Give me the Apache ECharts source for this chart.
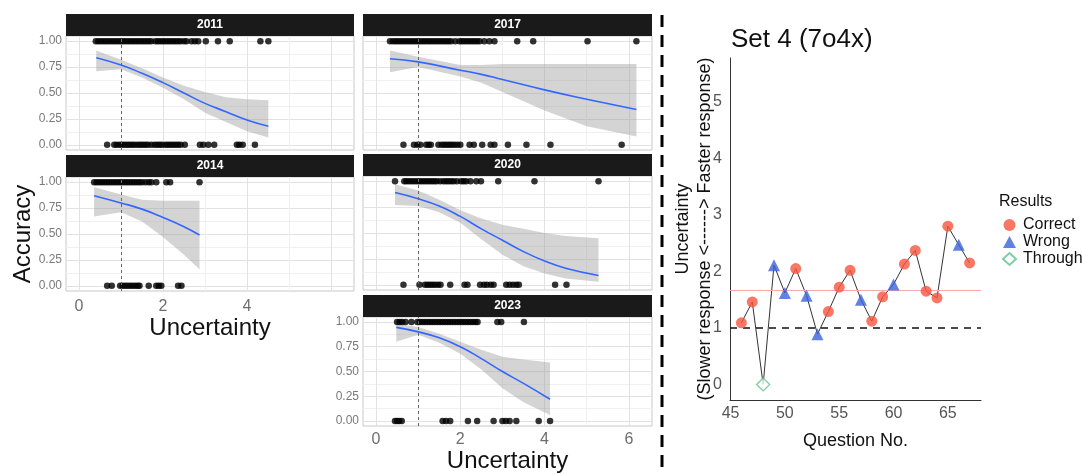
<!DOCTYPE html>
<html>
<head>
<meta charset="utf-8">
<script src="https://cdn.jsdelivr.net/npm/echarts@6/dist/echarts.min.js"></script>
<style>
  html, body { margin: 0; padding: 0; background: #fff; }
  #chart { width: 1082px; height: 474px; }
</style>
</head>
<body>
<div id="chart"></div>
<script>
// ---- facet panels: accuracy vs uncertainty, by year ----
const years = ['2011', '2017', '2014', '2020', '2023']

// uncertainty of answers with accuracy = 1
const hit2011 = [0.40, 0.46, 0.52, 0.58, 0.64, 0.70, 0.76, 0.82, 0.88, 0.94, 1.00, 1.06, 1.12, 1.18, 1.24, 1.30, 1.36, 1.42, 1.48, 1.54, 1.60, 1.66, 1.72, 1.82, 1.88, 1.94, 2.00, 2.06, 2.12, 2.18, 2.24, 2.30, 2.36, 2.42, 2.50, 2.56, 2.68, 2.76, 2.84, 3.02, 3.31, 3.59, 4.32, 4.51]
const hit2017 = [0.33, 0.40, 0.46, 0.52, 0.58, 0.64, 0.70, 0.76, 0.82, 0.88, 0.94, 1.00, 1.06, 1.12, 1.18, 1.24, 1.30, 1.36, 1.42, 1.48, 1.54, 1.60, 1.66, 1.72, 1.78, 1.88, 1.98, 2.04, 2.10, 2.16, 2.22, 2.28, 2.34, 2.40, 2.46, 2.57, 2.69, 2.81, 3.35, 3.73, 5.02, 6.18]
const hit2014 = [0.36, 0.42, 0.48, 0.54, 0.60, 0.66, 0.72, 0.78, 0.84, 0.90, 0.96, 1.02, 1.08, 1.14, 1.20, 1.26, 1.32, 1.38, 1.44, 1.50, 1.58, 1.66, 1.72, 1.84, 2.08, 2.17, 2.87]
const hit2020 = [0.45, 0.67, 0.72, 0.78, 0.84, 0.90, 0.96, 1.02, 1.08, 1.14, 1.20, 1.26, 1.32, 1.38, 1.44, 1.52, 1.60, 1.66, 1.72, 1.78, 1.84, 1.92, 2.02, 2.08, 2.14, 2.24, 2.38, 2.49, 2.90, 3.76, 5.28]
const hit2023 = [0.50, 0.56, 0.62, 0.70, 0.84, 0.98, 1.04, 1.10, 1.16, 1.22, 1.28, 1.34, 1.40, 1.46, 1.52, 1.58, 1.64, 1.70, 1.76, 1.82, 1.88, 1.94, 2.00, 2.06, 2.12, 2.18, 2.24, 2.30, 2.36, 2.41, 2.88, 2.97, 3.51]

// uncertainty of answers with accuracy = 0
const miss2011 = [0.67, 0.84, 0.90, 0.97, 1.03, 1.09, 1.15, 1.21, 1.27, 1.33, 1.40, 1.46, 1.52, 1.58, 1.64, 1.72, 1.80, 1.86, 1.92, 1.98, 2.06, 2.12, 2.18, 2.24, 2.30, 2.36, 2.42, 2.52, 2.88, 2.96, 3.08, 3.22, 3.76, 3.82, 3.90, 4.19]
const miss2017 = [0.65, 0.90, 0.98, 1.05, 1.19, 1.25, 1.30, 1.48, 1.56, 1.62, 1.68, 1.74, 1.80, 1.86, 1.93, 2.00, 2.22, 2.32, 2.52, 2.72, 2.81, 3.13, 3.57, 4.14, 5.83]
const miss2014 = [0.67, 0.78, 0.98, 1.04, 1.10, 1.16, 1.22, 1.28, 1.34, 1.40, 1.44, 1.66, 1.84, 1.90, 1.96, 2.36, 2.44]
const miss2020 = [0.65, 1.03, 1.16, 1.22, 1.28, 1.34, 1.40, 1.47, 1.53, 1.76, 2.10, 2.17, 2.47, 2.56, 2.63, 2.72, 2.79, 3.09, 3.17, 3.25, 3.33, 3.39, 4.25, 4.52]
const miss2023 = [0.45, 0.50, 0.55, 0.61, 1.58, 1.66, 1.76, 2.18, 2.40, 2.79, 3.00, 3.08, 3.17, 3.33, 3.86, 4.13]

// logistic fit (line) with confidence band
const fitX2011 = [0.41, 1.0, 1.5, 2.0, 2.5, 3.0, 3.5, 4.0, 4.51]
const fitY2011 = [0.84, 0.77, 0.69, 0.60, 0.50, 0.40, 0.32, 0.24, 0.18]
const fitLo2011 = [0.71, 0.73, 0.65, 0.55, 0.44, 0.31, 0.22, 0.13, 0.07]
const fitHi2011 = [0.91, 0.82, 0.74, 0.65, 0.57, 0.51, 0.46, 0.44, 0.43]

const fitX2017 = [0.33, 1.0, 2.0, 2.5, 3.0, 4.0, 5.0, 6.18]
const fitY2017 = [0.83, 0.80, 0.72, 0.68, 0.63, 0.53, 0.44, 0.34]
const fitLo2017 = [0.70, 0.75, 0.66, 0.60, 0.51, 0.33, 0.18, 0.08]
const fitHi2017 = [0.91, 0.85, 0.77, 0.77, 0.78, 0.78, 0.78, 0.78]

const fitX2014 = [0.36, 1.0, 1.5, 2.0, 2.5, 2.87]
const fitY2014 = [0.87, 0.80, 0.74, 0.66, 0.57, 0.49]
const fitLo2014 = [0.67, 0.71, 0.62, 0.47, 0.30, 0.16]
const fitHi2014 = [0.95, 0.88, 0.83, 0.82, 0.82, 0.82]

const fitX2020 = [0.45, 1.0, 1.5, 2.0, 2.5, 3.0, 3.5, 4.0, 4.5, 5.28]
const fitY2020 = [0.89, 0.83, 0.76, 0.66, 0.54, 0.43, 0.32, 0.23, 0.16, 0.09]
const fitLo2020 = [0.77, 0.76, 0.70, 0.60, 0.44, 0.29, 0.18, 0.11, 0.06, 0.03]
const fitHi2020 = [0.97, 0.91, 0.82, 0.72, 0.64, 0.58, 0.54, 0.50, 0.47, 0.45]

const fitX2023 = [0.48, 1.0, 1.5, 2.0, 2.5, 3.0, 3.5, 4.13]
const fitY2023 = [0.945, 0.90, 0.84, 0.75, 0.63, 0.50, 0.38, 0.22]
const fitLo2023 = [0.80, 0.87, 0.79, 0.68, 0.52, 0.33, 0.19, 0.06]
const fitHi2023 = [0.98, 0.95, 0.88, 0.80, 0.72, 0.65, 0.62, 0.59]

const xGridValues = [0, 1, 2, 3, 4, 5, 6]
const yGridValues = [0, 0.125, 0.25, 0.375, 0.5, 0.625, 0.75, 0.875, 1]
const yTickLabels = [0, 0.25, 0.5, 0.75, 1]
const uncertaintyRef = 1

// ---- right panel: Set 4 (7o4x) ----
const questionNo = [46, 47, 48, 49, 50, 51, 52, 53, 54, 55, 56, 57, 58, 59, 60, 61, 62, 63, 64, 65, 66, 67]
const uncertainty = [1.09, 1.46, 0.00, 2.11, 1.62, 2.05, 1.57, 0.89, 1.29, 1.72, 2.02, 1.50, 1.12, 1.55, 1.77, 2.13, 2.37, 1.65, 1.53, 2.80, 2.47, 2.15]
const results = ['Correct', 'Correct', 'Through', 'Wrong', 'Wrong', 'Correct', 'Wrong', 'Wrong', 'Correct', 'Correct', 'Correct', 'Wrong', 'Correct', 'Correct', 'Wrong', 'Correct', 'Correct', 'Correct', 'Correct', 'Correct', 'Wrong', 'Correct']
const questionTicks = [45, 50, 55, 60, 65]
const uncertaintyTicks = [0, 1, 2, 3, 4, 5]
const meanUncertainty = 1.67

const FONT = '"Liberation Sans", Arial, sans-serif'

const facets = {
  '2011': { hit: hit2011, miss: miss2011, fx: fitX2011, fy: fitY2011, lo: fitLo2011, hi: fitHi2011 },
  '2017': { hit: hit2017, miss: miss2017, fx: fitX2017, fy: fitY2017, lo: fitLo2017, hi: fitHi2017 },
  '2014': { hit: hit2014, miss: miss2014, fx: fitX2014, fy: fitY2014, lo: fitLo2014, hi: fitHi2014 },
  '2020': { hit: hit2020, miss: miss2020, fx: fitX2020, fy: fitY2020, lo: fitLo2020, hi: fitHi2020 },
  '2023': { hit: hit2023, miss: miss2023, fx: fitX2023, fy: fitY2023, lo: fitLo2023, hi: fitHi2023 }
}

// panel layout
const panels = [
  { left: 66, top: 36, width: 288, height: 114, yLab: true, xLab: null },
  { left: 363, top: 36, width: 289, height: 114, yLab: false, xLab: null },
  { left: 66, top: 177, width: 288, height: 114, yLab: true, xLab: [0, 2, 4], acc: true },
  { left: 363, top: 176, width: 289, height: 114, yLab: false, xLab: null },
  { left: 363, top: 317, width: 289, height: 113, yLab: true, xLab: [0, 2, 4, 6] }
]

const grid = []
const xAxis = []
const yAxis = []
const series = []
const graphic = []

years.forEach((year, i) => {
  const p = panels[i]
  const f = facets[year]
  grid.push({
    left: p.left, top: p.top, width: p.width, height: p.height,
    show: true, backgroundColor: '#fff', borderColor: '#c8c8c8', borderWidth: 1
  })
  xAxis.push({
    type: 'value', gridIndex: i, min: -0.31, max: 6.55,
    axisLine: { show: false },
    axisTick: { show: false, customValues: xGridValues },
    axisLabel: {
      show: !!p.xLab, customValues: p.xLab || [], fontFamily: FONT,
      fontSize: 16, color: '#6e6e6e', margin: i === 4 ? 6 : 8
    },
    splitLine: { show: true, lineStyle: { color: ['#e2e2e2', '#f0f0f0'], width: 1 } },
    name: p.xLab ? 'Uncertainty' : '',
    nameLocation: 'middle', nameGap: i === 4 ? 23 : 25,
    nameTextStyle: { fontFamily: FONT, fontSize: 24, color: '#111' }
  })
  yAxis.push({
    type: 'value', gridIndex: i, min: -0.05, max: 1.05,
    axisLine: { show: false },
    axisTick: { show: false, customValues: yGridValues },
    axisLabel: {
      show: p.yLab, customValues: yTickLabels, formatter: v => v.toFixed(2),
      fontFamily: FONT, fontSize: 12, color: '#7a7a7a', margin: 4
    },
    splitLine: { show: true, lineStyle: { color: ['#e2e2e2', '#f0f0f0'], width: 1 } },
    name: p.acc ? 'Accuracy' : '',
    nameLocation: 'middle', nameGap: 31, nameRotate: 90, nameMoveOverlap: false,
    nameTextStyle: { fontFamily: FONT, fontSize: 24, color: '#111' }
  })

  const band = f.fx.map((x, k) => [x, f.lo[k], f.hi[k]])
  series.push({
    type: 'custom', xAxisIndex: i, yAxisIndex: i, silent: true,
    data: band,
    renderItem: (params, api) => {
      if (params.dataIndex !== 0) return null
      const upper = band.map(r => api.coord([r[0], r[2]]))
      const lower = band.slice().reverse().map(r => api.coord([r[0], r[1]]))
      return {
        type: 'polygon',
        shape: { points: upper.concat(lower) },
        style: { fill: 'rgba(153,153,153,0.42)' }
      }
    },
    z: 1
  })
  series.push({
    type: 'line', xAxisIndex: i, yAxisIndex: i, silent: true,
    data: f.fx.map((x, k) => [x, f.fy[k]]),
    smooth: true, showSymbol: false,
    lineStyle: { color: '#3366ff', width: 1.6 },
    z: 3
  })
  series.push({
    type: 'scatter', xAxisIndex: i, yAxisIndex: i, silent: true,
    data: f.hit.map(x => [x, 1]), symbolSize: 6.5,
    itemStyle: { color: '#000' }, z: 4,
    markLine: {
      silent: true, symbol: 'none', label: { show: false },
      lineStyle: { color: '#666', type: [3, 3], width: 1 },
      data: [{ xAxis: uncertaintyRef }]
    }
  })
  series.push({
    type: 'scatter', xAxisIndex: i, yAxisIndex: i, silent: true,
    data: f.miss.map(x => [x, 0]), symbolSize: 6.5,
    itemStyle: { color: '#000' }, z: 4
  })

  // facet strip
  graphic.push({
    type: 'rect', left: p.left, top: p.top - 22, z: 10,
    shape: { width: p.width, height: 22 },
    style: { fill: '#1a1a1a' }
  })
  graphic.push({
    type: 'text', z: 11,
    x: p.left + p.width / 2, y: p.top - 11,
    style: {
      text: year, fill: '#fff', font: 'bold 12px ' + FONT,
      textAlign: 'center', textVerticalAlign: 'middle'
    }
  })
})

// right chart
const gi = years.length
grid.push({ left: 730, top: 58, width: 251, height: 342 })
xAxis.push({
  type: 'value', gridIndex: gi, min: 44.95, max: 68.05,
  axisLine: { show: true, onZero: false, lineStyle: { color: '#333', width: 1 } },
  axisTick: { show: false },
  axisLabel: { customValues: questionTicks, fontFamily: FONT, fontSize: 16, color: '#555', margin: 6 },
  splitLine: { show: false },
  name: 'Question No.', nameLocation: 'middle', nameGap: 32,
  nameTextStyle: { fontFamily: FONT, fontSize: 18, color: '#111' }
})
yAxis.push({
  type: 'value', gridIndex: gi, min: -0.275, max: 5.775,
  axisLine: { show: true, onZero: false, lineStyle: { color: '#333', width: 1 } },
  axisTick: { show: false },
  axisLabel: { customValues: uncertaintyTicks, fontFamily: FONT, fontSize: 16, color: '#555', margin: 8 },
  splitLine: { show: false },
  name: 'Uncertainty\n(Slower response <------> Faster response)',
  nameLocation: 'middle', nameRotate: 90, nameGap: 14, nameMoveOverlap: false,
  nameTextStyle: { fontFamily: FONT, fontSize: 18, color: '#111', lineHeight: 22 }
})

series.push({
  type: 'line', xAxisIndex: gi, yAxisIndex: gi, silent: true,
  data: questionNo.map((q, k) => [q, uncertainty[k]]),
  showSymbol: false, lineStyle: { color: '#333', width: 1 }, z: 2,
  markLine: {
    silent: true, symbol: 'none', label: { show: false },
    data: [
      { yAxis: meanUncertainty, lineStyle: { color: '#f7a9a9', width: 1.2, type: 'solid' } },
      { yAxis: uncertaintyRef, lineStyle: { color: '#111', width: 1.5, type: [7, 6] } }
    ]
  }
})

const resultStyle = {
  Correct: { symbol: 'circle', size: 11, itemStyle: { color: '#f8553d' } },
  Wrong: { symbol: 'triangle', size: 12, itemStyle: { color: '#3a63dc' } },
  Through: { symbol: 'diamond', size: 13, itemStyle: { color: '#fff', borderColor: '#5fbf8e', borderWidth: 1.3 } }
}
Object.keys(resultStyle).forEach(name => {
  const s = resultStyle[name]
  series.push({
    name, type: 'scatter', xAxisIndex: gi, yAxisIndex: gi, silent: true,
    symbol: s.symbol, symbolSize: s.size, itemStyle: s.itemStyle, z: 5,
    data: questionNo.map((q, k) => [q, uncertainty[k], results[k]]).filter(d => d[2] === name)
  })
})

// dashed separator between the two figures
graphic.push({
  type: 'line', z: 10,
  shape: { x1: 662, y1: 15, x2: 662, y2: 474 },
  style: { stroke: '#000', lineWidth: 3, lineDash: [12, 8] }
})

const chart = echarts.init(document.getElementById('chart'))
chart.setOption({
  animation: false,
  backgroundColor: '#fff',
  textStyle: { fontFamily: FONT },
  title: [
    { text: 'Set 4 (7o4x)', left: 726, top: 22, textStyle: { fontFamily: FONT, fontSize: 26, fontWeight: 'normal', color: '#111' } },
    { text: 'Results', left: 994, top: 189, textStyle: { fontFamily: FONT, fontSize: 16, fontWeight: 'normal', color: '#111' } }
  ],
  legend: {
    data: ['Correct', 'Wrong', 'Through'],
    orient: 'vertical', left: 997, top: 212,
    itemWidth: 13, itemHeight: 12, itemGap: 1,
    textStyle: { fontFamily: FONT, fontSize: 16, color: '#111', padding: [0, 0, 0, 2] },
    selectedMode: false
  },
  grid, xAxis, yAxis, series, graphic
})
</script>
</body>
</html>
